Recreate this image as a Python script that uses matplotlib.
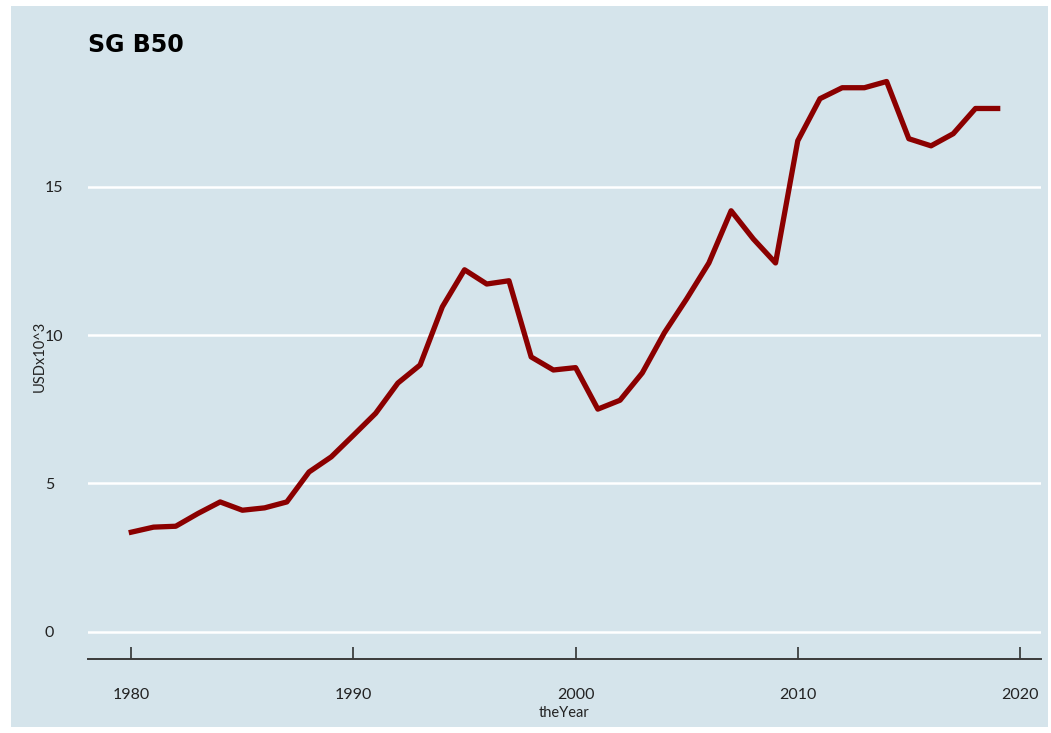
import matplotlib
matplotlib.use("Agg")
import matplotlib.pyplot as plt
from matplotlib.patches import Rectangle

# Values (USD x 10^3)
years = list(range(1980, 2020))
values = [3.35, 3.52, 3.55, 3.98, 4.37, 4.09, 4.17, 4.37, 5.38, 5.89,
          6.62, 7.36, 8.38, 8.99, 10.95, 12.20, 11.72, 11.83, 9.26, 8.82,
          8.90, 7.50, 7.80, 8.72, 10.08, 11.22, 12.43, 14.19, 13.24, 12.43,
          16.55, 17.97, 18.34, 18.34, 18.55, 16.62, 16.38, 16.79, 17.64, 17.64]
x_ticks = [1980, 1990, 2000, 2010, 2020]
y_ticks = [0, 5, 10, 15]

title = "SG B50"
x_label = "theYear"
y_label = "USDx10^3"

BG = "#d5e4eb"
LINE = "#8b0000"
W, H = 1051, 733

plt.rcParams["font.family"] = ["Lato", "DejaVu Sans"]

fig = plt.figure(figsize=(W / 100, H / 100), dpi=100)
fig.patch.set_facecolor("white")
# panel background with the thin white border seen in the reference
fig.patches.append(Rectangle((11 / W, 6 / H), (1048 - 11) / W, (727 - 6) / H,
                             transform=fig.transFigure, facecolor=BG,
                             edgecolor="none", zorder=-10))

ax = fig.add_axes([88 / W, (H - 659) / H, (1041 - 88) / W, (659 - 54) / H])
ax.set_facecolor(BG)

ax.plot(years, values, color=LINE, linewidth=3.8, solid_joinstyle="round",
        zorder=3)

# ggplot-style expansion, y limits include 0
span = 2019 - 1980
ax.set_xlim(1980 - 0.05 * span, 2019 + 0.05 * span)
ymax = max(values)
ax.set_ylim(-0.05 * ymax, ymax * 1.05)

ax.set_xticks(x_ticks)
ax.set_yticks(y_ticks)
ax.yaxis.grid(True, color="white", linewidth=1.8)
ax.set_axisbelow(True)

for side in ["top", "right", "left"]:
    ax.spines[side].set_visible(False)
ax.spines["bottom"].set_color("#3a3a3a")
ax.spines["bottom"].set_linewidth(1.4)

ax.tick_params(axis="x", direction="in", length=8.5, width=1.1,
               color="#222222", pad=21, labelsize=11.5, labelcolor="#222222")
ax.tick_params(axis="y", length=0, pad=31, labelsize=11.5,
               labelcolor="#222222")
for lbl in ax.get_yticklabels():
    lbl.set_horizontalalignment("left")

ax.set_xlabel(x_label, fontsize=10.5, color="#222222", labelpad=3)
ax.set_ylabel(y_label, fontsize=10.5, color="#222222", labelpad=-1)

fig.text(88 / W, 1 - 45 / H, title, fontsize=17, fontweight="bold",
         family="DejaVu Sans", va="center", ha="left", color="black")

fig.savefig("out.png", dpi=100, facecolor=fig.get_facecolor())
